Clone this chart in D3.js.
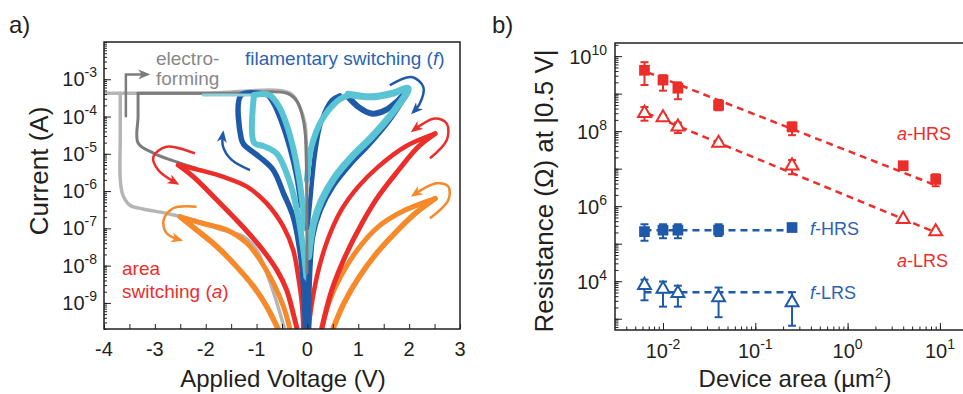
<!DOCTYPE html>
<html>
<head>
<meta charset="utf-8">
<script src="https://cdn.jsdelivr.net/npm/d3@7"></script>
<style>
body { margin: 0; background: #fff; }
svg { display: block; font-family: "Liberation Sans", Arial, Helvetica, sans-serif; }
</style>
</head>
<body>
<div id="chart"></div>
<script>

// ---------- panel a : I-V sweeps, [voltage (V), log10 current (A)] ----------
var greyForming = [[-0.45,-9.7],[-0.6,-9.0],[-0.8,-8.2],[-1.0,-7.58],[-1.26,-7.22],[-1.78,-7.0],[-2.11,-6.82],
                   [-2.76,-6.6],[-3.23,-6.48],[-3.49,-6.38],[-3.63,-6.1],[-3.68,-5.7],[-3.68,-4.5],[-3.68,-3.375]];
var greyReturn = [[-4.0,-3.375],[-2.0,-3.375],[-0.34,-3.375],[-0.15,-3.75],[-0.05,-4.18],[-0.02,-4.8],[-0.01,-6.0]];
var dgreyForming = [[-2.2,-5.38],[-2.5,-5.25],[-3.03,-4.98],[-3.33,-4.71],[-3.33,-4.0],[-3.33,-3.375]];
var dgreyReturn = [[-3.33,-3.375],[-1.5,-3.375],[-0.4,-3.375],[-0.2,-3.6],[-0.08,-4.1],[-0.03,-4.7]];
var dgreyTail = [[-0.03,-4.7],[-0.015,-5.8],[-0.01,-7.0],[-0.01,-8.2]];

var orangeNegUp = [[-2.5,-6.69],[-2.05,-6.87],[-1.59,-7.04],[-1.19,-7.40],[-0.93,-7.85],[-0.67,-8.47],[-0.47,-9.10],[-0.34,-9.72]];
var orangeNegLow = [[-2.5,-6.69],[-2.18,-7.04],[-1.78,-7.49],[-1.39,-8.03],[-1.06,-8.56],[-0.80,-9.10],[-0.57,-9.72]];
var orangePosUp = [[0.28,-9.7],[0.42,-9.0],[0.65,-8.3],[0.98,-7.58],[1.39,-6.96],[1.92,-6.51],[2.51,-6.2]];
var orangePosLow = [[0.5,-9.7],[0.72,-9.0],[1.02,-8.3],[1.36,-7.67],[1.72,-7.13],[2.12,-6.6],[2.51,-6.2]];

var redNegUp = [[-2.54,-5.30],[-2.11,-5.44],[-1.65,-5.62],[-1.19,-5.88],[-0.80,-6.33],[-0.47,-6.96],[-0.28,-7.58],[-0.18,-8.30],[-0.11,-9.01],[-0.08,-9.72]];
var redNegLow = [[-2.54,-5.30],[-2.24,-5.62],[-1.78,-6.24],[-1.33,-6.87],[-0.93,-7.49],[-0.60,-8.12],[-0.41,-8.65],[-0.28,-9.28],[-0.2,-9.72]];
var redPosUp = [[0.02,-9.7],[0.1,-8.9],[0.22,-8.1],[0.4,-7.3],[0.67,-6.5],[1.0,-5.88],[1.39,-5.35],[1.92,-4.81],[2.51,-4.46]];
var redPosLow = [[0.28,-9.7],[0.48,-8.65],[0.74,-7.76],[1.07,-6.87],[1.39,-6.15],[1.79,-5.44],[2.18,-4.81],[2.51,-4.46]];

var blueNegHrs = [[-0.04,-9.7],[-0.08,-8.5],[-0.15,-7.58],[-0.28,-6.69],[-0.47,-6.06],[-0.67,-5.44],[-0.93,-5.1],
                  [-1.25,-4.75],[-1.3,-4.6],[-1.3,-3.42],[-0.78,-3.42]];
var blueNegLrs = [[-0.78,-3.42],[-0.65,-3.7],[-0.5,-4.2],[-0.35,-4.85],[-0.22,-5.6],[-0.13,-6.4]];
var cyanNegHrs = [[-0.02,-8.3],[-0.08,-7.58],[-0.18,-6.69],[-0.34,-5.79],[-0.6,-5.0],[-0.85,-4.8],[-1.05,-4.7],[-1.05,-3.42]];
var cyanNegFlat = [[-2.05,-3.42],[-1.05,-3.42]];
var cyanNegLrs = [[-1.05,-3.42],[-0.75,-3.42],[-0.55,-3.75],[-0.4,-4.25],[-0.27,-4.9],[-0.17,-5.6],[-0.1,-6.3],[-0.05,-7.0]];
var bluePosLrs = [[0.0,-7.0],[0.05,-6.33],[0.15,-4.98],[0.28,-4.10],[0.48,-3.56],[0.64,-3.43]];
var bluePosLoop = [[0.8,-3.47],[1.0,-3.74],[1.26,-3.92],[1.53,-3.83],[1.79,-3.56],[1.98,-3.29],
                   [1.6,-4.1],[1.2,-4.75],[0.85,-5.25],[0.5,-5.85],[0.25,-6.5],[0.1,-7.2],[0.03,-8.5],[0.02,-9.7]];
var cyanPosLrs = [[-0.01,-5.7],[0.08,-4.81],[0.28,-4.1],[0.61,-3.56],[0.8,-3.43]];
var cyanPosLoop = [[0.8,-3.4],[1.26,-3.47],[1.66,-3.38],[1.98,-3.25],
                   [1.66,-3.92],[1.26,-4.55],[0.87,-5.08],[0.54,-5.62],[0.28,-6.24],[0.12,-6.87],[0.02,-7.76]];

// sweep-direction arrows, same units
var arrowForming = [[-3.57,-4.02],[-3.57,-2.87],[-3.15,-2.87]];
var arrowBlueNeg = [[-1.13,-5.44],[-1.5,-5.15],[-1.66,-4.8],[-1.66,-4.45]];
var arrowBluePos = [[1.62,-3.16],[2.05,-2.94],[2.28,-3.21],[2.21,-3.65],[2.08,-3.88]];
var arrowRedPos = [[2.41,-5.12],[2.74,-4.63],[2.74,-4.19],[2.51,-4.05],[2.08,-4.37]];
var arrowOrangePos = [[2.41,-6.73],[2.77,-6.24],[2.77,-5.88],[2.54,-5.79],[2.08,-6.11]];
var arrowRedNeg = [[-2.21,-4.99],[-2.77,-4.81],[-3.03,-5.08],[-2.93,-5.44],[-2.57,-5.79]];
var arrowOrangeNeg = [[-2.18,-6.42],[-2.64,-6.46],[-2.83,-6.78],[-2.77,-7.13],[-2.5,-7.31]];

var voltTicks = [-4,-3.5,-3,-2.5,-2,-1.5,-1,-0.5,0,0.5,1,1.5,2,2.5,3];
var currentLabelExp = [-3,-4,-5,-6,-7,-8,-9];

// ---------- panel b : resistance at |0.5 V| vs device area ----------
var areas = [0.0063, 0.01, 0.0145, 0.04, 0.25, 4, 9];
var aHRS   = [4.2e9, 2.3e9, 1.4e9, 4.9e8, 1.3e8, 1.2e7, 5.2e6];
var aHRSlo = [1.7e9, 1.2e9, 7.1e8, 3.6e8, 7.8e7, 1.0e7, 3.4e6];
var aHRShi = [6.9e9, 3.1e9, 2.0e9, 6.8e8, 1.7e8, 1.4e7, 7.1e6];
var aLRS   = [3.0e8, 2.3e8, 1.3e8, 4.8e7, 1.2e7, 4.5e5, 2.1e5];
var aLRSlo = [1.9e8, 1.9e8, 8.9e7, 4.0e7, 7.1e6, 4.0e5, 1.8e5];
var aLRShi = [4.4e8, 2.7e8, 1.7e8, 5.5e7, 1.7e7, 5.0e5, 2.4e5];
var fAreas = [0.0063, 0.01, 0.0145, 0.04, 0.25];
var fHRS   = [2.1e5, 2.3e5, 2.3e5, 2.3e5, 2.7e5];
var fHRSlo = [1.2e5, 1.4e5, 1.4e5, 1.6e5, 2.4e5];
var fHRShi = [3.3e5, 3.3e5, 3.3e5, 3.3e5, 3.1e5];
var fLRS   = [7.8e3, 6.2e3, 4.8e3, 3.7e3, 2.7e3];
var fLRSlo = [3.1e3, 2.1e3, 2.1e3, 1.1e3, 650];
var fLRShi = [1.1e4, 9.8e3, 7.6e3, 6.8e3, 5.1e3];
var aHRSfit = [[0.0068, 3.7e9], [9, 3.6e6]];
var aLRSfit = [[0.0067, 3.0e8], [9, 2.0e5]];
var fHRSfit = [[0.0063, 2.3e5], [0.25, 2.3e5]];
var fLRSfit = [[0.0063, 5.1e3], [0.25, 5.1e3]];
var resLabelExp = [4, 6, 8, 10];
var areaLabelExp = [-2, -1, 0, 1];


var RED = '#ec2e2b', ORANGE = '#f6892a', BLUE = '#1f5aa8', CYAN = '#5ac4d4',
    GREY = '#b5b5b5', DGREY = '#7c7c7c', TBLUE = '#2b63b2';

var svg = d3.select('#chart').append('svg')
            .attr('width', 963)
            .attr('height', 394);
var defs = svg.append('defs');

function arrowHead(id, color){
  defs.append('marker').attr('id', id)
      .attr('viewBox', '0 0 12 10').attr('refX', 9).attr('refY', 5)
      .attr('markerWidth', 12).attr('markerHeight', 10)
      .attr('markerUnits', 'userSpaceOnUse').attr('orient', 'auto')
      .append('path').attr('d', 'M0,0 L12,5 L0,10 L3.5,5 Z').attr('fill', color);
}
arrowHead('ah-grey', DGREY); arrowHead('ah-blue', BLUE);
arrowHead('ah-red', RED); arrowHead('ah-orange', ORANGE);

function logTicks(lo, hi){
  var out = [];
  for (var e = Math.floor(lo); e <= Math.ceil(hi); e++)
    for (var k = 1; k < 10; k++){
      var v = k * Math.pow(10, e);
      if (Math.log10(v) >= lo - 1e-9 && Math.log10(v) <= hi + 1e-9) out.push(v);
    }
  return out;
}

function powLabel(g, x, y, exp, anchor){
  var t = g.append('text').attr('x', x).attr('y', y)
           .attr('text-anchor', anchor).attr('font-size', 20).attr('fill', '#231f20');
  t.append('tspan').text('10');
  t.append('tspan').attr('font-size', 14).attr('dy', -9).text(exp);
}

// ======================= panel a =======================
var xA = d3.scaleLinear().domain([-4, 3]).range([104, 460]);
var yA = d3.scaleLog().domain([Math.pow(10, -9.7), 1e-2]).range([329, 42]);

defs.append('clipPath').attr('id', 'clipA').append('rect')
    .attr('x', 104).attr('y', 42).attr('width', 356).attr('height', 287);

var lineA = d3.line()
              .x(function(d){ return xA(d[0]); })
              .y(function(d){ return yA(Math.pow(10, d[1])); })
              .curve(d3.curveCatmullRom.alpha(0.5));
var lineStraight = d3.line()
              .x(function(d){ return xA(d[0]); })
              .y(function(d){ return yA(Math.pow(10, d[1])); });

var pa = svg.append('g');
var plotA = pa.append('g').attr('clip-path', 'url(#clipA)');

var ivCurves = [
  [greyForming, GREY, 3.5], [greyReturn, GREY, 3.5],
  [dgreyForming, DGREY, 3], [dgreyReturn, DGREY, 3],
  [orangeNegUp, ORANGE, 5], [orangeNegLow, ORANGE, 5.5],
  [orangePosUp, ORANGE, 5], [orangePosLow, ORANGE, 5.5],
  [redNegUp, RED, 4.5], [redNegLow, RED, 5],
  [redPosUp, RED, 4.5], [redPosLow, RED, 5],
  [blueNegHrs, BLUE, 5.5], [blueNegLrs, BLUE, 4.5],
  [cyanNegFlat, '#8fcfd8', 3],
  [cyanNegHrs, CYAN, 6], [cyanNegLrs, CYAN, 6],
  [bluePosLrs, BLUE, 4.5], [bluePosLoop, BLUE, 6],
  [cyanPosLrs, CYAN, 6], [cyanPosLoop, CYAN, 7],
  [dgreyTail, DGREY, 3]
];

plotA.selectAll('path.iv').data(ivCurves).enter().append('path')
     .attr('class', 'iv')
     .attr('d', function(d){ return lineA(d[0]); })
     .attr('fill', 'none')
     .attr('stroke', function(d){ return d[1]; })
     .attr('stroke-width', function(d){ return d[2]; })
     .attr('stroke-linecap', 'round')
     .attr('stroke-linejoin', 'round');

var arrows = [
  [arrowForming, DGREY, 'ah-grey', true], [arrowBlueNeg, BLUE, 'ah-blue'],
  [arrowBluePos, BLUE, 'ah-blue'], [arrowRedPos, RED, 'ah-red'],
  [arrowOrangePos, ORANGE, 'ah-orange'], [arrowRedNeg, RED, 'ah-red'],
  [arrowOrangeNeg, ORANGE, 'ah-orange']
];
pa.selectAll('path.arrow').data(arrows).enter().append('path')
  .attr('class', 'arrow')
  .attr('d', function(d){ return d[3] ? lineStraight(d[0]) : lineA(d[0]); })
  .attr('fill', 'none')
  .attr('stroke', function(d){ return d[1]; })
  .attr('stroke-width', 2.5)
  .attr('marker-end', function(d){ return 'url(#' + d[2] + ')'; });

// axes a
var axA = pa.append('g');
axA.append('g').attr('transform', 'translate(104,0)')
   .call(d3.axisLeft(yA).tickValues(logTicks(-9.7, -2)).tickSize(-3).tickFormat(''));
axA.append('g').attr('transform', 'translate(104,0)')
   .call(d3.axisLeft(yA).tickValues(currentLabelExp.map(function(e){ return Math.pow(10, e); })).tickSize(-7).tickFormat(''));
axA.append('g').attr('transform', 'translate(0,329)')
   .call(d3.axisBottom(xA).tickValues(voltTicks).tickSize(-5).tickFormat(''));
axA.selectAll('.domain').remove();
axA.selectAll('line').attr('stroke', '#231f20').attr('stroke-width', 1);

currentLabelExp.forEach(function(e){
  powLabel(pa, 97, yA(Math.pow(10, e)) + 7, String(e), 'end');
});
voltTicks.filter(function(v){ return v % 1 === 0; }).forEach(function(v){
  pa.append('text').attr('x', xA(v)).attr('y', 356)
    .attr('text-anchor', 'middle').attr('font-size', 20).attr('fill', '#231f20')
    .text(String(v));
});

pa.append('rect').attr('x', 104).attr('y', 42).attr('width', 356).attr('height', 287)
  .attr('fill', 'none').attr('stroke', '#231f20').attr('stroke-width', 1.5);

pa.append('text').attr('x', 283).attr('y', 387).attr('text-anchor', 'middle')
  .attr('font-size', 24).attr('fill', '#231f20').text('Applied Voltage (V)');
pa.append('text').attr('transform', 'translate(48,171) rotate(-90)')
  .attr('text-anchor', 'middle').attr('font-size', 26).attr('fill', '#231f20').text('Current (A)');

pa.append('text').attr('x', 156).attr('y', 65).attr('font-size', 19).attr('fill', '#888').text('electro-');
pa.append('text').attr('x', 156).attr('y', 85).attr('font-size', 19).attr('fill', '#888').text('forming');
var fil = pa.append('text').attr('x', 245).attr('y', 65).attr('font-size', 19).attr('fill', TBLUE);
fil.append('tspan').text('filamentary switching (');
fil.append('tspan').attr('font-style', 'italic').text('f');
fil.append('tspan').text(')');
pa.append('text').attr('x', 122).attr('y', 275).attr('font-size', 19).attr('fill', RED).text('area');
var sw = pa.append('text').attr('x', 122).attr('y', 298).attr('font-size', 19).attr('fill', RED);
sw.append('tspan').text('switching (');
sw.append('tspan').attr('font-style', 'italic').text('a');
sw.append('tspan').text(')');

svg.append('text').attr('x', 9).attr('y', 33).attr('font-size', 24).attr('fill', '#231f20').text('a)');

// ======================= panel b =======================
var xB = d3.scaleLog().domain([Math.pow(10, -2.52), Math.pow(10, 1.25)]).range([615, 963]);
var yB = d3.scaleLog().domain([Math.pow(10, 2.7), Math.pow(10, 10.35)]).range([330, 43]);
var pb = svg.append('g');

var lineB = d3.line().x(function(d){ return xB(d[0]); }).y(function(d){ return yB(d[1]); });
var fits = [[aHRSfit, RED], [aLRSfit, RED], [fHRSfit, BLUE], [fLRSfit, BLUE]];
pb.selectAll('path.fit').data(fits).enter().append('path')
  .attr('class', 'fit')
  .attr('d', function(d){ return lineB(d[0]); })
  .attr('fill', 'none')
  .attr('stroke', function(d){ return d[1]; })
  .attr('stroke-width', 2.5)
  .attr('stroke-dasharray', '7,5');

var series = [
  {x: areas, y: aHRS, lo: aHRSlo, hi: aHRShi, c: RED, open: false},
  {x: areas, y: aLRS, lo: aLRSlo, hi: aLRShi, c: RED, open: true},
  {x: fAreas, y: fHRS, lo: fHRSlo, hi: fHRShi, c: BLUE, open: false},
  {x: fAreas, y: fLRS, lo: fLRSlo, hi: fLRShi, c: BLUE, open: true}
];

series.forEach(function(s){
  var pts = s.x.map(function(a, i){ return {a: a, r: s.y[i], lo: s.lo[i], hi: s.hi[i]}; });
  var g = pb.append('g');
  var eb = g.selectAll('g.err').data(pts).enter().append('g').attr('class', 'err')
            .attr('stroke', s.c).attr('stroke-width', 2);
  eb.append('line').attr('x1', function(d){ return xB(d.a); }).attr('x2', function(d){ return xB(d.a); })
    .attr('y1', function(d){ return yB(d.lo); }).attr('y2', function(d){ return yB(d.hi); });
  eb.append('line').attr('x1', function(d){ return xB(d.a) - 4; }).attr('x2', function(d){ return xB(d.a) + 4; })
    .attr('y1', function(d){ return yB(d.lo); }).attr('y2', function(d){ return yB(d.lo); });
  eb.append('line').attr('x1', function(d){ return xB(d.a) - 4; }).attr('x2', function(d){ return xB(d.a) + 4; })
    .attr('y1', function(d){ return yB(d.hi); }).attr('y2', function(d){ return yB(d.hi); });
  var sym = d3.symbol().type(s.open ? d3.symbolTriangle : d3.symbolSquare).size(s.open ? 72 : 115);
  g.selectAll('path.pt').data(pts).enter().append('path').attr('class', 'pt')
   .attr('d', sym)
   .attr('transform', function(d){ return 'translate(' + xB(d.a) + ',' + yB(d.r) + ')'; })
   .attr('fill', s.open ? '#fff' : s.c)
   .attr('stroke', s.c)
   .attr('stroke-width', s.open ? 2 : 0);
});

// axes b
var axB = pb.append('g');
axB.append('g').attr('transform', 'translate(615,0)')
   .call(d3.axisLeft(yB).tickValues(logTicks(2.7, 10.35)).tickSize(-3.5).tickFormat(''));
axB.append('g').attr('transform', 'translate(615,0)')
   .call(d3.axisLeft(yB).tickValues([1e3, 1e4, 1e5, 1e6, 1e7, 1e8, 1e9, 1e10]).tickSize(-7).tickFormat(''));
axB.append('g').attr('transform', 'translate(0,330)')
   .call(d3.axisBottom(xB).tickValues(logTicks(-2.52, 1.25)).tickSize(-3.5).tickFormat(''));
axB.append('g').attr('transform', 'translate(0,330)')
   .call(d3.axisBottom(xB).tickValues([0.01, 0.1, 1, 10]).tickSize(-7).tickFormat(''));
axB.selectAll('.domain').remove();
axB.selectAll('line').attr('stroke', '#231f20').attr('stroke-width', 1);

resLabelExp.forEach(function(e){
  powLabel(pb, 607, yB(Math.pow(10, e)) + 8, String(e), 'end');
});
areaLabelExp.forEach(function(e){
  powLabel(pb, xB(Math.pow(10, e)), 358, String(e), 'middle');
});

pb.append('rect').attr('x', 615).attr('y', 43).attr('width', 350).attr('height', 287)
  .attr('fill', 'none').attr('stroke', '#231f20').attr('stroke-width', 1.5);

var dl = pb.append('text').attr('x', 795).attr('y', 387).attr('text-anchor', 'middle')
           .attr('font-size', 24).attr('fill', '#231f20');
dl.append('tspan').text('Device area (\u00b5m');
dl.append('tspan').attr('font-size', 15).attr('dy', -9).text('2');
dl.append('tspan').attr('dy', 9).text(')');
pb.append('text').attr('transform', 'translate(553,191) rotate(-90)')
  .attr('text-anchor', 'middle').attr('font-size', 26).attr('fill', '#231f20')
  .text('Resistance (\u03a9) at |0.5 V|');

function stateLabel(x, y, pre, rest, color){
  var t = pb.append('text').attr('x', x).attr('y', y).attr('font-size', 18).attr('fill', color);
  t.append('tspan').attr('font-style', 'italic').text(pre);
  t.append('tspan').text(rest);
}
stateLabel(897, 140, 'a', '-HRS', RED);
stateLabel(897, 267, 'a', '-LRS', RED);
stateLabel(810, 235, 'f', '-HRS', TBLUE);
stateLabel(810, 299, 'f', '-LRS', TBLUE);

svg.append('text').attr('x', 492).attr('y', 33).attr('font-size', 24).attr('fill', '#231f20').text('b)');

</script>
</body>
</html>
